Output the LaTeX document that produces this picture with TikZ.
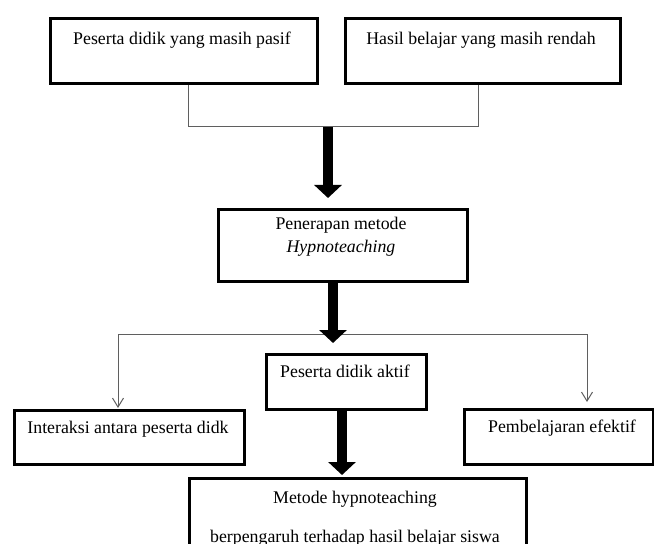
\documentclass[tikz,border=0pt]{standalone}
\usepackage{fontspec}
\setmainfont{Liberation Serif}
\usetikzlibrary{arrows.meta}
\definecolor{thingray}{RGB}{95,95,95}
\tikzset{
  box/.style={draw=black, line width=3bp, rectangle, inner sep=0pt, anchor=north west},
  txt/.style={anchor=base, inner sep=0pt, font=\fontsize{17.8bp}{21bp}\selectfont},
  bigarrow/.style={draw=black, line width=10bp, -{Triangle[width=27bp,length=13bp]}},
  thinline/.style={draw=thingray, line width=1bp},
  thinarrow/.style={thinline, -{Straight Barb[width=11bp,length=9bp,line width=1bp]}}
}
\begin{document}
\begin{tikzpicture}[x=1bp,y=-1bp]
\useasboundingbox (0,0) rectangle (654,544);
\clip (0,0) rectangle (654,544);
\fill[white] (0,0) rectangle (654,544);
% boxes
\node[box, minimum width=267bp, minimum height=65bp] (b1) at (49,17) {};
\node[box, minimum width=275bp, minimum height=65bp] (b2) at (344,17) {};
\node[box, minimum width=249bp, minimum height=72bp] (b3) at (217,208) {};
\node[box, minimum width=160bp, minimum height=55bp] (b4) at (265,353) {};
\node[box, minimum width=230bp, minimum height=54bp] (b5) at (13,409) {};
\node[box, minimum width=189bp, minimum height=55bp] (b6) at (463,408) {};
\node[box, minimum width=337bp, minimum height=83bp] (b7) at (188,477) {};
% texts
\node[txt] (t1) at (182,45) {Peserta didik yang masih pasif};
\node[txt] (t2) at (481,45) {Hasil belajar yang masih rendah};
\node[txt] (t3a) at (341,230) {Penerapan metode};
\node[txt] (t3b) at (341,253) {\itshape Hypnoteaching};
\node[txt] (t4) at (345,377) {Peserta didik aktif};
\node[txt] (t5) at (128,433) {Interaksi antara peserta didk};
\node[txt] (t6) at (562,432) {Pembelajaran efektif};
\node[txt] (t7a) at (355,503) {Metode hypnoteaching};
\node[txt] (t7b) at (355,542) {berpengaruh terhadap hasil belajar siswa};
% top connector
\coordinate (c1) at (188,127);
\coordinate (c2) at (478,127);
\draw[thinline] (c1 |- b1.south) -- (c1) -- (c2) -- (c2 |- b2.south);
% thick arrow 1
\coordinate (j1) at (328,127);
\draw[bigarrow, shorten >=10bp] (j1) -- (j1 |- b3.north);
% split line
\coordinate (h1) at (118,334);
\coordinate (h2) at (587,334);
\draw[thinline] (h1) -- (h2);
\draw[thinarrow, shorten >=1bp] (h1) -- (h1 |- b5.north);
\draw[thinarrow, shorten >=6bp] (h2) -- (h2 |- b6.north);
% thick arrow 2
\coordinate (a2) at (333,343);
\draw[bigarrow] (a2 |- b3.south) -- (a2);
% thick arrow 3
\coordinate (a3) at (342,475);
\draw[bigarrow] (a3 |- b4.south) -- (a3);
\end{tikzpicture}
\end{document}
